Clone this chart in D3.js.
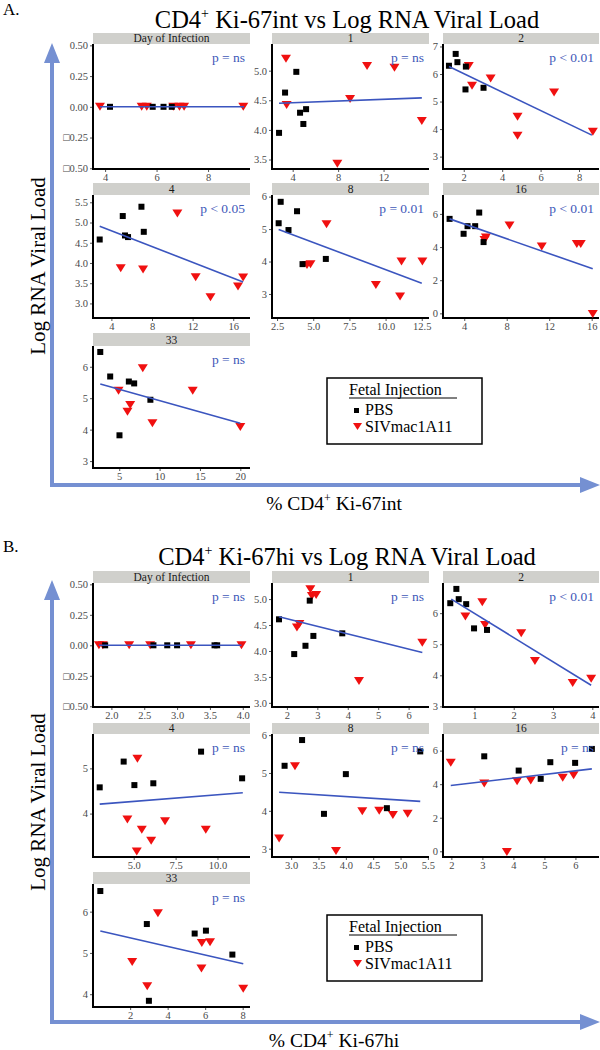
<!DOCTYPE html>
<html><head><meta charset="utf-8">
<script src="https://cdn.jsdelivr.net/npm/d3@7"></script>
<style>body{margin:0;background:#fff}svg{display:block}text{font-family:"Liberation Serif","Times New Roman",serif}</style>
</head><body><svg id="c" width="600" height="1050"></svg>
<script>
const days = ["Day of Infection","1","2","4","8","16","33"];

// ---- Ki-67int ----
const intPBS = [
 [[4.19,0],[5.85,0],[6.27,0],[6.59,0]],
 [[2.80,3.95],[3.33,4.63],[4.32,4.98],[4.65,4.29],[4.94,4.10],[5.18,4.35]],
 [[1.23,6.30],[1.58,6.73],[1.67,6.43],[2.11,6.27],[2.09,5.44],[3.03,5.50]],
 [[2.85,4.58],[5.12,5.16],[5.34,4.68],[5.64,4.64],[6.96,5.39],[7.19,4.77]],
 [[2.61,5.18],[2.75,5.84],[3.29,4.97],[3.88,5.55],[4.26,3.92],[5.87,4.08]],
 [[2.62,5.70],[3.94,4.80],[4.31,5.26],[5.03,5.26],[5.41,6.08],[5.82,4.30]],
 [[2.65,6.47],[3.88,5.69],[6.19,5.53],[6.85,5.47],[8.86,4.95],[5.03,3.82]]
];
const intSIV = [
 [[3.80,0],[5.42,0],[5.62,0],[6.65,0],[6.89,0],[7.07,0],[9.37,0]],
 [[3.41,5.20],[3.47,4.42],[7.93,3.43],[9.05,4.52],[10.55,5.08],[12.96,5.05],[15.37,4.15]],
 [[2.26,6.29],[2.43,5.57],[3.40,5.84],[4.80,4.45],[4.80,3.76],[6.70,5.33],[8.72,3.90]],
 [[4.92,3.87],[7.12,3.84],[10.5,5.22],[12.3,3.65],[13.76,3.15],[16.47,3.42],[16.97,3.64]],
 [[5.92,5.15],[4.57,3.89],[4.81,3.92],[9.33,3.28],[11.0,2.92],[11.1,4.0],[12.54,4.0]],
 [[5.91,4.43],[6.04,4.57],[8.26,5.30],[11.3,4.03],[14.6,4.19],[14.97,4.19],[16.1,-0.04]],
 [[4.91,5.24],[6.02,4.57],[6.36,4.78],[7.92,5.95],[9.11,4.20],[14.1,5.24],[20.0,4.08]]
];
const intFit = [[3.8,0,9.4,0],[2.8,4.45,15.37,4.54],[1.23,6.27,8.67,3.78],[2.85,4.91,16.97,3.53],[2.61,4.99,12.5,3.33],[2.62,5.70,16.1,2.69],[2.65,5.45,20.0,4.2]];
const intP = ["p = ns","p = ns","p < 0.01","p < 0.05","p = 0.01","p < 0.01","p = ns"];
const intXDomain = [[3.53,9.63],[2.18,16.0],[0.92,9.04],[2.19,17.65],[2.15,13.0],[2.0,16.69],[1.75,21.2]];
const intYDomain = [[-0.506,0.511],[3.34,5.45],[2.55,7.09],[2.64,5.68],[2.26,6.05],[-0.28,7.14],[2.78,6.66]];
const intXTicks = [["4","6","8"],["4","8","12"],["2","4","6","8"],["4","8","12","16"],["2.5","5.0","7.5","10.0","12.5"],["4","8","12","16"],["5","10","15","20"]];
const intYTicks = [["\u25A10.50","\u25A10.25","0.00","0.25","0.50"],["3.5","4.0","4.5","5.0"],["3","4","5","6","7"],["3.0","3.5","4.0","4.5","5.0","5.5"],["3","4","5","6"],["0","2","4","6"],["3","4","5","6"]];

// ---- Ki-67hi ----
const hiPBS = [
 [[1.905,0],[2.64,0],[2.85,0],[3.0,0],[3.57,0],[3.61,0]],
 [[1.74,4.61],[2.24,3.94],[2.61,4.10],[2.75,4.97],[2.87,4.29],[3.82,4.34]],
 [[0.385,6.32],[0.54,6.78],[0.60,6.45],[0.79,6.29],[0.99,5.51],[1.32,5.46]],
 [[2.97,4.58],[4.40,5.15],[5.04,4.63],[6.17,4.67],[9.02,5.37],[11.47,4.78]],
 [[2.88,5.19],[3.20,5.87],[3.60,3.92],[4.0,4.97],[4.75,4.07],[5.36,5.57]],
 [[3.06,5.66],[4.17,4.81],[4.88,4.32],[5.19,5.31],[5.99,5.27],[6.53,6.10]],
 [[0.41,6.50],[2.89,5.70],[3.0,3.84],[5.44,5.47],[6.04,5.54],[7.45,4.96]]
];
const hiSIV = [
 [[1.81,0],[1.87,0],[2.27,0],[2.59,0],[3.21,0],[3.98,0]],
 [[2.33,4.45],[2.41,4.52],[2.77,5.19],[2.82,5.06],[2.96,5.08],[4.37,3.42],[6.45,4.16]],
 [[0.77,5.89],[1.20,6.35],[1.27,5.62],[2.19,5.35],[2.54,4.46],[3.50,3.75],[3.97,3.89]],
 [[5.22,5.21],[4.62,3.87],[5.48,3.64],[6.04,3.40],[6.87,3.83],[5.18,3.16],[9.30,3.64]],
 [[2.78,3.27],[3.07,5.18],[3.82,2.94],[4.30,3.99],[4.61,4.0],[4.86,3.89],[5.13,3.92]],
 [[1.98,5.27],[3.06,4.04],[3.79,-0.04],[4.12,4.18],[4.56,4.22],[5.59,4.38],[5.94,4.53]],
 [[2.11,4.78],[2.91,4.19],[3.48,5.96],[5.82,5.24],[6.26,5.26],[5.80,4.62],[8.03,4.13]]
];
const hiFit = [[1.81,0,3.98,0],[1.74,4.66,6.45,3.97],[0.41,6.45,3.97,3.68],[2.97,4.21,11.51,4.46],[2.78,4.49,5.36,4.25],[1.98,3.92,6.53,4.91],[0.41,5.53,8.03,4.74]];
const hiP = ["p = ns","p = ns","p < 0.01","p = ns","p = ns","p = ns","p = ns"];
const hiXDomain = [[1.72,4.11],[1.51,6.67],[0.20,4.17],[2.57,11.94],[2.65,5.52],[1.73,6.76],[0.02,8.39]];
const hiYDomain = [[-0.506,0.511],[2.92,5.31],[2.98,6.97],[3.04,5.76],[2.78,6.03],[-0.34,6.99],[3.69,6.67]];
const hiXTicks = [["2.0","2.5","3.0","3.5","4.0"],["2","3","4","5","6"],["1","2","3","4"],["5.0","7.5","10.0"],["3.0","3.5","4.0","4.5","5.0","5.5"],["2","3","4","5","6"],["2","4","6","8"]];
const hiYTicks = [["\u25A10.50","\u25A10.25","0.00","0.25","0.50"],["3.0","3.5","4.0","4.5","5.0"],["3","4","5","6"],["4","5"],["3","4","5","6"],["0","2","4","6"],["4","5","6"]];

const legendTitle = "Fetal Injection";
const groups = ["PBS","SIVmac1A11"];

// ---- drawing ----
const svg = d3.select("#c");
const BLUE_FRAME = "#7590d2", FIT = "#3b55bf", PCOL = "#4058b8", RED = "#f01010";
const cols = [[93,250],[272,429],[443,599]];
const num = s => parseFloat(s.replace("\u25A1","-"));

function section(o){
  const g = svg.append("g");
  g.append("text").attr("x",3).attr("y",o.top+15).attr("font-size",17).text(o.letter);
  const t = g.append("text").attr("x",347).attr("y",o.top+28).attr("text-anchor","middle").attr("font-size",24.5);
  t.append("tspan").text("CD4");
  t.append("tspan").attr("font-size",14).attr("dy",-10).text("+");
  t.append("tspan").attr("dy",10).text(o.titleRest);
  g.append("line").attr("x1",52).attr("x2",52).attr("y1",o.top+60).attr("y2",o.frameBottom+2).attr("stroke",BLUE_FRAME).attr("stroke-width",4);
  g.append("line").attr("x1",50).attr("x2",584).attr("y1",o.frameBottom).attr("y2",o.frameBottom).attr("stroke",BLUE_FRAME).attr("stroke-width",4);
  g.append("path").attr("d",`M52,${o.top+43}L44,${o.top+63}L60,${o.top+63}Z`).attr("fill",BLUE_FRAME);
  g.append("path").attr("d",`M600,${o.frameBottom}L580,${o.frameBottom-8}L580,${o.frameBottom+8}Z`).attr("fill",BLUE_FRAME);
  g.append("text").attr("transform",`translate(45,${o.yLabelC}) rotate(-90)`).attr("text-anchor","middle").attr("font-size",21).text("Log RNA Viral Load");
  const xl = g.append("text").attr("x",334).attr("y",o.frameBottom+25).attr("text-anchor","middle").attr("font-size",19.5);
  xl.append("tspan").text("% CD4");
  xl.append("tspan").attr("font-size",12).attr("dy",-8).text("+");
  xl.append("tspan").attr("dy",8).text(o.xLabelRest);

  days.forEach((day,i)=>{
    const row = Math.floor(i/3), col = i%3;
    const [sx0,sx1] = o.rows[row].strip, [py0,py1] = o.rows[row].plot;
    const [x0,x1] = cols[col];
    const pg = g.append("g");
    pg.append("rect").attr("x",x0).attr("y",sx0).attr("width",x1-x0).attr("height",sx1-sx0).attr("fill","#d0d0cc");
    pg.append("text").attr("x",(x0+x1)/2).attr("y",sx1-2.5).attr("text-anchor","middle").attr("font-size",11.5).attr("fill","#1a1a1a").text(day);
    const x = d3.scaleLinear().domain(o.xDom[i]).range([x0,x1]);
    const y = d3.scaleLinear().domain(o.yDom[i]).range([py1,py0]);
    const xt = o.xTicks[i], yt = o.yTicks[i];
    const ax = pg.append("g").attr("transform",`translate(0,${py1})`)
      .call(d3.axisBottom(x).tickValues(xt.map(num)).tickFormat((d,k)=>xt[k]).tickSize(3).tickPadding(2));
    const ay = pg.append("g").attr("transform",`translate(${x0},0)`)
      .call(d3.axisLeft(y).tickValues(yt.map(num)).tickFormat((d,k)=>yt[k]).tickSize(3).tickPadding(2));
    [ax,ay].forEach(a=>{
      a.select(".domain").remove();
      a.selectAll("text").attr("font-size",10.5).attr("fill","#4a4a4a").attr("font-family","Liberation Serif, serif");
      a.selectAll("line").attr("stroke","#555");
    });
    pg.append("line").attr("x1",x0).attr("x2",x0).attr("y1",py0).attr("y2",py1+1).attr("stroke","#000").attr("stroke-width",2);
    pg.append("line").attr("x1",x0-1).attr("x2",x1).attr("y1",py1).attr("y2",py1).attr("stroke","#000").attr("stroke-width",2);
    pg.selectAll("path.tri").data(o.siv[i]).join("path").attr("class","tri")
      .attr("d",d=>{const cx=x(d[0]),cy=y(d[1]);return `M${cx-5},${cy-4}L${cx+5},${cy-4}L${cx},${cy+4}Z`;})
      .attr("fill",RED);
    pg.selectAll("rect.sq").data(o.pbs[i]).join("rect").attr("class","sq")
      .attr("x",d=>x(d[0])-3).attr("y",d=>y(d[1])-3).attr("width",6).attr("height",6).attr("fill","#000");
    const f = o.fit[i];
    pg.append("line").attr("x1",x(f[0])).attr("y1",y(f[1])).attr("x2",x(f[2])).attr("y2",y(f[3])).attr("stroke",FIT).attr("stroke-width",1.6);
    pg.append("text").attr("x",x1-5).attr("y",py0+18).attr("text-anchor","end").attr("font-size",13.5).attr("fill",PCOL).text(o.p[i]);
  });
  const L = o.legend;
  const lg = g.append("g");
  lg.append("rect").attr("x",327).attr("y",L).attr("width",155).attr("height",66).attr("fill","none").attr("stroke","#000").attr("stroke-width",1.5);
  lg.append("text").attr("x",349).attr("y",L+17).attr("font-size",16).text(legendTitle);
  lg.append("line").attr("x1",349).attr("x2",457).attr("y1",L+20).attr("y2",L+20).attr("stroke","#000").attr("stroke-width",1);
  lg.append("rect").attr("x",354).attr("y",L+30).attr("width",5).attr("height",5).attr("fill","#000");
  lg.append("text").attr("x",365).attr("y",L+37).attr("font-size",16).text(groups[0]);
  lg.append("path").attr("d",`M353,${L+45}L362,${L+45}L357.5,${L+52}Z`).attr("fill",RED);
  lg.append("text").attr("x",365).attr("y",L+54).attr("font-size",16).text(groups[1]);
}

section({letter:"A.", top:0, titleRest:" Ki-67int vs Log RNA Viral Load", xLabelRest:" Ki-67int",
  frameBottom:485, yLabelC:266, legend:378,
  rows:[{strip:[33,44],plot:[44,169]},{strip:[183,195],plot:[195,318]},{strip:[333,346],plot:[346,468]}],
  xDom:intXDomain, yDom:intYDomain, xTicks:intXTicks, yTicks:intYTicks, pbs:intPBS, siv:intSIV, fit:intFit, p:intP});
section({letter:"B.", top:537, titleRest:" Ki-67hi vs Log RNA Viral Load", xLabelRest:" Ki-67hi",
  frameBottom:1022, yLabelC:802, legend:915,
  rows:[{strip:[571,583],plot:[583,707]},{strip:[723,734],plot:[734,857]},{strip:[872,884],plot:[884,1007]}],
  xDom:hiXDomain, yDom:hiYDomain, xTicks:hiXTicks, yTicks:hiYTicks, pbs:hiPBS, siv:hiSIV, fit:hiFit, p:hiP});
</script></body></html>
